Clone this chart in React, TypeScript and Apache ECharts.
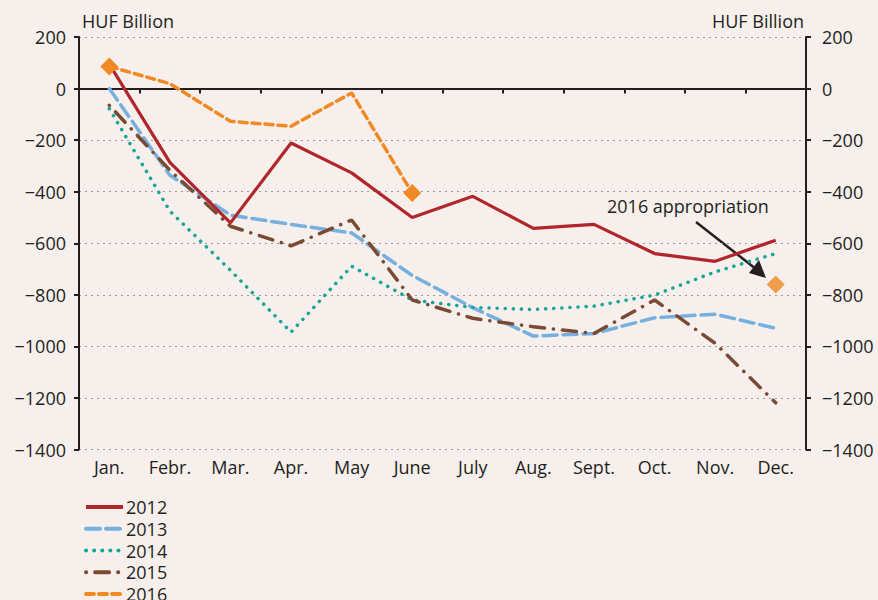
import React, { useEffect, useRef } from "react";
import * as echarts from "echarts";

const months = ["Jan.", "Febr.", "Mar.", "Apr.", "May", "June", "July", "Aug.", "Sept.", "Oct.", "Nov.", "Dec."];
const y2012 = [95, -286, -521, -211, -327, -500, -418, -542, -527, -640, -670, -588];
const y2013 = [0, -336, -491, -527, -560, -725, -850, -960, -950, -889, -875, -930];
const y2014 = [-78, -475, -705, -945, -689, -820, -849, -857, -844, -801, -711, -640];
const y2015 = [-65, -317, -534, -610, -510, -820, -891, -924, -950, -820, -988, -1219];
const y2016 = [86, 19, -127, -146, -17, -405];
const y2016MarkedIdx = [0, 5];
const appropriation2016 = ["Dec.", -760];
const yTicks = { min: -1400, max: 200, interval: 200 };

const FONT = "Open Sans";
const FS = 18;
const fmt = (v: number) => String(v).replace("-", "\u2212");

export default function App() {
  const ref = useRef<HTMLDivElement>(null);
  useEffect(() => {
    if (!ref.current) return;
    const chart = echarts.init(ref.current, null, { renderer: "svg" });
    const axisLine = { show: true, lineStyle: { color: "#231f20", width: 2 } };
    const yBase = {
      type: "value",
      min: yTicks.min,
      max: yTicks.max,
      interval: yTicks.interval,
      axisLine,
      axisTick: { show: true, length: 5, lineStyle: { color: "#231f20", width: 2 } },
    };
    chart.setOption({
      animation: false,
      backgroundColor: "#f6efec",
      textStyle: { fontFamily: FONT },
      grid: { left: 79, right: 72, top: 37, bottom: 150.5, containLabel: false },
      legend: {
        orient: "vertical",
        left: 79,
        top: 493,
        height: 200,
        itemWidth: 37,
        itemHeight: 14,
        itemGap: 3.75,
        itemStyle: { opacity: 0 },
        lineStyle: { width: 4 },
        data: ["2012", "2013", "2014", "2015", "2016"],
        textStyle: { fontFamily: FONT, fontSize: FS, lineHeight: 18, color: "#231f20", padding: [0, 0, 0, -2] },
      },
      xAxis: {
        type: "category",
        data: months,
        boundaryGap: true,
        axisLine,
        axisTick: { show: true, length: 5, lineStyle: { color: "#231f20", width: 2 } },
        axisLabel: { fontFamily: FONT, fontSize: FS, color: "#231f20", margin: 8, interval: 0 },
      },
      yAxis: [
        {
          ...yBase,
          position: "left",
          splitLine: { show: true, lineStyle: { color: "#9a9a9a", width: 1, type: [2, 4] } },
          axisLabel: { fontFamily: FONT, fontSize: FS, color: "#231f20", margin: 13, formatter: fmt },
        },
        {
          ...yBase,
          position: "right",
          splitLine: { show: false },
          axisLabel: { fontFamily: FONT, fontSize: FS, color: "#231f20", margin: 16, formatter: fmt },
        },
      ],
      series: [
        {
          name: "2012", type: "line", data: y2012, symbol: "none", z: 3,
          lineStyle: { color: "#b0262a", width: 3.2 }, itemStyle: { color: "#b0262a" },
        },
        {
          name: "2013", type: "line", data: y2013, symbol: "none", z: 2,
          lineStyle: { color: "#76b0de", width: 3.5, type: [14, 6], cap: "round" }, itemStyle: { color: "#76b0de" },
        },
        {
          name: "2014", type: "line", data: y2014, symbol: "none", z: 2,
          lineStyle: { color: "#17a596", width: 3.5, type: [0.1, 8], cap: "round" }, itemStyle: { color: "#17a596" },
        },
        {
          name: "2015", type: "line", data: y2015, symbol: "none", z: 2,
          lineStyle: { color: "#7a4a32", width: 3.5, type: [0.1, 9, 14, 9], cap: "round" }, itemStyle: { color: "#7a4a32" },
        },
        {
          name: "2016", type: "line", symbol: "none", z: 4,
          data: y2016.map((v, i) =>
            y2016MarkedIdx.includes(i) ? { value: v, symbol: "diamond", symbolSize: 18 } : v
          ),
          lineStyle: { color: "#f08a24", width: 3.5, type: [8, 5], cap: "round" }, itemStyle: { color: "#f08a24" },
        },
        {
          name: "2016 appropriation", type: "scatter", symbol: "diamond", symbolSize: 18, z: 5,
          data: [appropriation2016], itemStyle: { color: "#f08a24" },
        },
      ],
      graphic: [
        { type: "text", left: 82, top: 12, style: { text: "HUF Billion", fontFamily: FONT, fontSize: FS, fill: "#231f20" } },
        { type: "text", right: 74, top: 12, style: { text: "HUF Billion", fontFamily: FONT, fontSize: FS, fill: "#231f20" } },
        { type: "text", x: 607, y: 206, style: { text: "2016 appropriation", fontFamily: FONT, fontSize: FS, fill: "#231f20", textVerticalAlign: "middle" } },
        { type: "line", shape: { x1: 696, y1: 222, x2: 756, y2: 269 }, style: { stroke: "#231f20", lineWidth: 2.5 } },
        { type: "polygon", shape: { points: [[766, 278], [749, 273], [759, 260]] }, style: { fill: "#231f20" } },
      ],
    });
    return () => chart.dispose();
  }, []);
  return <div ref={ref} style={{ width: 878, height: 600, position: "absolute", left: 0, top: 0 }} />;
}
